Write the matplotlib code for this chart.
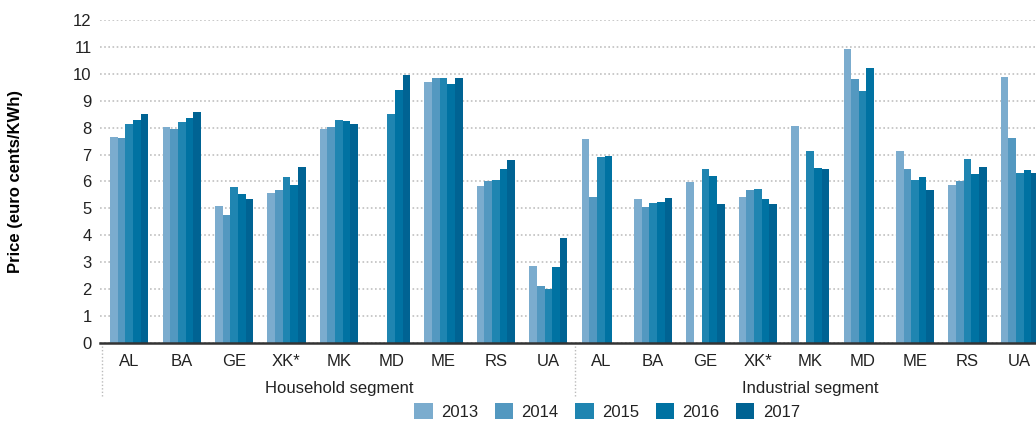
import numpy as np
import matplotlib.pyplot as plt
import matplotlib.transforms as mtransforms

plt.rcParams['font.family'] = ['Liberation Sans Narrow', 'Liberation Sans', 'DejaVu Sans']

countries = ["AL", "BA", "GE", "XK*", "MK", "MD", "ME", "RS", "UA"]
segments = ["Household segment", "Industrial segment"]
years = ["2013", "2014", "2015", "2016", "2017"]
colors = ["#7bacce", "#5398c0", "#1f85b1", "#0072a2", "#006393"]

nan = np.nan
# household, one list per year, countries in order above
house_2013 = [7.66, 8.03, 5.09, 5.58, 7.96, nan, 9.70, 5.84, 2.86]
house_2014 = [7.62, 7.96, 4.76, 5.69, 8.03, nan, 9.85, 6.02, 2.12]
house_2015 = [8.14, 8.22, 5.80, 6.17, 8.29, 8.51, 9.85, 6.06, 2.01]
house_2016 = [8.29, 8.36, 5.54, 5.87, 8.25, 9.40, 9.63, 6.47, 2.83]
house_2017 = [8.51, 8.59, 5.35, 6.54, 8.14, 9.96, 9.85, 6.80, 3.90]
# industrial
ind_2013 = [7.58, 5.35, 5.98, 5.43, 8.07, 10.93, 7.14, 5.87, 9.89]
ind_2014 = [5.43, 5.06, nan, 5.69, nan, 9.81, 6.47, 6.02, 7.62]
ind_2015 = [6.91, 5.20, 6.47, 5.72, 7.14, 9.37, 6.06, 6.84, 6.32]
ind_2016 = [6.95, 5.24, 6.21, 5.35, 6.51, 10.22, 6.17, 6.28, 6.43]
ind_2017 = [nan, 5.39, 5.17, 5.17, 6.47, nan, 5.69, 6.54, 6.32]

series = [house_2013 + ind_2013, house_2014 + ind_2014, house_2015 + ind_2015,
          house_2016 + ind_2016, house_2017 + ind_2017]

fig = plt.figure(figsize=(10.36, 4.21), dpi=100)
ax = fig.add_axes([0.0965, 0.185, 0.9035, 0.768])

x = np.arange(len(countries) * 2)
w = 0.146
for i, vals in enumerate(series):
    ax.bar(x + (i - 2) * w, vals, width=w, color=colors[i], label=years[i], zorder=2)

ax.set_ylim(0, 12)
ax.set_yticks(range(0, 13))
ax.set_xlim(-0.56, 17.31)
ax.set_xticks(x)
ax.set_xticklabels(countries * 2, fontsize=12, color="#222222")
ax.tick_params(axis='x', length=0, pad=8)
ax.tick_params(axis='y', length=0, labelsize=12, labelcolor="#222222", pad=6)
ax.yaxis.grid(True, linestyle=(0, (1, 1.5)), color="#c0c0c0", linewidth=1.2, zorder=0)
for s in ["left", "right", "top"]:
    ax.spines[s].set_visible(False)
ax.spines["bottom"].set_color("#333333")
ax.spines["bottom"].set_linewidth(1.8)

ax.set_ylabel("Price (euro cents/KWh)", fontsize=12, fontweight="bold", labelpad=36)

trans = mtransforms.blended_transform_factory(ax.transData, ax.transAxes)
for xs in [-0.52, 8.5, 17.5]:
    ax.plot([xs, xs], [-0.01, -0.165], transform=trans, clip_on=False,
            color="#bbbbbb", linestyle=(0, (1, 1.5)), linewidth=1)
for k, seg in enumerate(segments):
    ax.text(4 + 9 * k, -0.14, seg, transform=trans, ha="center", va="center",
            fontsize=12, color="#222222")

fig.legend(loc="center", bbox_to_anchor=(0.586, 0.022), ncol=5, frameon=False,
           fontsize=12, handlelength=1.1, handleheight=1.1, columnspacing=1.0,
           handletextpad=0.5, labelcolor="#222222")

fig.savefig("out.png", dpi=100)
